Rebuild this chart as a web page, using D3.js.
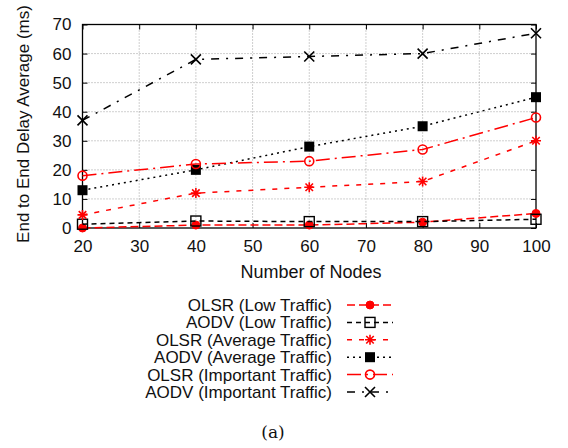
<!DOCTYPE html>
<html><head><meta charset="utf-8">
<script src="https://cdn.jsdelivr.net/npm/d3@7"></script>
<style>body{margin:0;background:#fff}text{font-family:"Liberation Sans",Arial,sans-serif}</style>
</head><body><svg id="c" width="568" height="448"></svg>
<script>
const nodes = [20, 40, 60, 80, 100];
const olsrLow = [0, 1, 1, 2, 5];
const aodvLow = [1.3, 2.4, 2.2, 2.2, 3];
const olsrAvg = [4.5, 12, 14, 16, 30];
const aodvAvg = [13, 20, 28, 35, 45];
const olsrImp = [18, 22, 23, 27, 38];
const aodvImp = [37, 58, 59, 60, 67];
const xTicks = [20, 30, 40, 50, 60, 70, 80, 90, 100];
const yTicks = [0, 10, 20, 30, 40, 50, 60, 70];
const seriesNames = ["OLSR (Low Traffic)", "AODV (Low Traffic)", "OLSR (Average Traffic)", "AODV (Average Traffic)", "OLSR (Important Traffic)", "AODV (Important Traffic)"];

const series = [
  {name: seriesNames[0], values: olsrLow, color: "#ff0000", dash: "8,4", marker: "fcircle"},
  {name: seriesNames[1], values: aodvLow, color: "#000", dash: "5,4", marker: "osquare"},
  {name: seriesNames[2], values: olsrAvg, color: "#ff0000", dash: "5,7", marker: "star"},
  {name: seriesNames[3], values: aodvAvg, color: "#000", dash: "2,4", marker: "fsquare"},
  {name: seriesNames[4], values: olsrImp, color: "#ff0000", dash: "14,5,2,5", marker: "ocircle"},
  {name: seriesNames[5], values: aodvImp, color: "#000", dash: "8,7,2,7", marker: "x"}
];

const FONT = '"Liberation Sans",Arial,sans-serif';
const svg = d3.select("#c");
const L = 82.5, R = 536, T = 24.5, B = 228;
const x = d3.scaleLinear().domain([20, 100]).range([L, R]);
const y = d3.scaleLinear().domain([0, 70]).range([B, T]);

// grid
const g = svg.append("g");
g.selectAll(".gx").data(xTicks.slice(1, -1)).enter().append("line")
  .attr("x1", d => x(d)).attr("x2", d => x(d)).attr("y1", T).attr("y2", B)
  .attr("stroke", "#888").attr("stroke-width", 0.8).attr("stroke-dasharray", "1,2");
g.selectAll(".gy").data(yTicks.slice(1, -1)).enter().append("line")
  .attr("y1", d => y(d)).attr("y2", d => y(d)).attr("x1", L).attr("x2", R)
  .attr("stroke", "#888").attr("stroke-width", 0.8).attr("stroke-dasharray", "1,2");

// axes
const ax = svg.append("g").attr("transform", `translate(0,${B})`)
  .call(d3.axisBottom(x).tickValues(xTicks).tickSize(-5).tickPadding(12).tickFormat(d3.format("d")));
const ay = svg.append("g").attr("transform", `translate(${L},0)`)
  .call(d3.axisLeft(y).tickValues(yTicks).tickSize(-5).tickPadding(11).tickFormat(d3.format("d")));
[ax, ay].forEach(a => {
  a.select(".domain").remove();
  a.selectAll("text").attr("font-size", 17).attr("fill", "#111").style("font-family", FONT);
  a.selectAll("line").attr("stroke", "#000");
});
// top/right ticks
svg.append("g").attr("transform", `translate(0,${T})`)
  .call(d3.axisTop(x).tickValues(xTicks).tickSize(-5).tickFormat(""))
  .call(a => {a.select(".domain").remove(); a.selectAll("line").attr("stroke", "#000");});
svg.append("g").attr("transform", `translate(${R},0)`)
  .call(d3.axisRight(y).tickValues(yTicks).tickSize(-5).tickFormat(""))
  .call(a => {a.select(".domain").remove(); a.selectAll("line").attr("stroke", "#000");});

svg.append("rect").attr("x", L).attr("y", T).attr("width", R - L).attr("height", B - T)
  .attr("fill", "none").attr("stroke", "#000").attr("stroke-width", 1.3);

// titles
svg.append("text").attr("x", 311).attr("y", 278).attr("text-anchor", "middle")
  .attr("font-size", 18).attr("fill", "#111").text("Number of Nodes");
svg.append("text").attr("transform", `translate(29,124) rotate(-90)`)
  .attr("text-anchor", "middle").attr("font-size", 17).attr("fill", "#111").text("End to End Delay Average (ms)");
svg.append("text").attr("x", 273).attr("y", 438).attr("text-anchor", "middle")
  .attr("font-size", 17).style("font-family", '"DejaVu Serif","Liberation Serif",serif').attr("fill", "#111").text("(a)");

function drawMarker(sel, type, color) {
  const s = 5;
  if (type === "fcircle") sel.append("circle").attr("r", 4).attr("fill", color).attr("stroke", color);
  else if (type === "ocircle") sel.append("circle").attr("r", 4.5).attr("fill", "none").attr("stroke", color).attr("stroke-width", 1.6);
  else if (type === "osquare") sel.append("rect").attr("x", -s).attr("y", -s).attr("width", 2 * s).attr("height", 2 * s).attr("fill", "none").attr("stroke", color).attr("stroke-width", 1.4);
  else if (type === "fsquare") sel.append("rect").attr("x", -s).attr("y", -s).attr("width", 2 * s).attr("height", 2 * s).attr("fill", color);
  else if (type === "x") sel.append("path").attr("d", `M${-s},${-s}L${s},${s}M${-s},${s}L${s},${-s}`).attr("stroke", color).attr("stroke-width", 1.6);
  else if (type === "star") sel.append("path").attr("d", `M${-s},0L${s},0M0,${-s}L0,${s}M${-s*0.75},${-s*0.75}L${s*0.75},${s*0.75}M${-s*0.75},${s*0.75}L${s*0.75},${-s*0.75}`).attr("stroke", color).attr("stroke-width", 1.6);
}

const line = d3.line().x((d, i) => x(nodes[i])).y(d => y(d));
series.forEach(s => {
  svg.append("path").datum(s.values).attr("d", line).attr("fill", "none")
    .attr("stroke", s.color).attr("stroke-width", 1.5).attr("stroke-dasharray", s.dash);
  s.values.forEach((v, i) => {
    drawMarker(svg.append("g").attr("transform", `translate(${x(nodes[i])},${y(v)})`), s.marker, s.color);
  });
});

// legend
const ly = d3.scalePoint().domain(seriesNames).range([305, 392]);
series.forEach(s => {
  const yy = ly(s.name);
  svg.append("text").attr("x", 332).attr("y", yy + 6).attr("text-anchor", "end")
    .attr("font-size", 17).attr("fill", "#111").text(s.name);
  svg.append("line").attr("x1", 347).attr("x2", 393).attr("y1", yy).attr("y2", yy)
    .attr("stroke", s.color).attr("stroke-width", 1.5).attr("stroke-dasharray", s.dash);
  drawMarker(svg.append("g").attr("transform", `translate(370,${yy})`), s.marker, s.color);
});
</script></body></html>
